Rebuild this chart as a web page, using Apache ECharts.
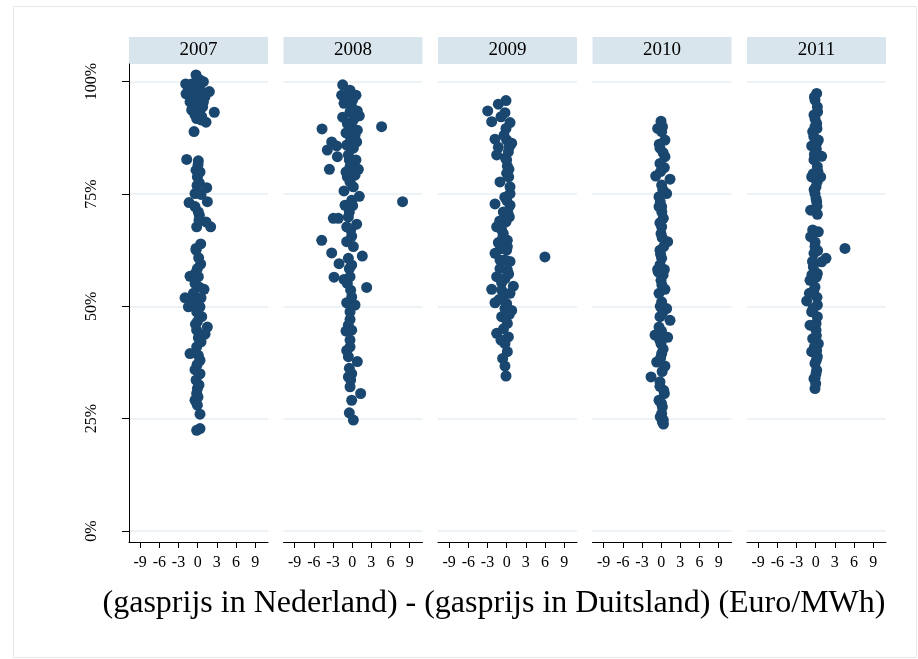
<!DOCTYPE html>
<html><head><meta charset="utf-8">
<script src="https://cdn.jsdelivr.net/npm/echarts@6/dist/echarts.min.js"></script>
<style>html,body{margin:0;padding:0;background:#fff}#c{width:918px;height:659px}</style>
</head><body><div id="c"></div>
<script>
const years = ['2007', '2008', '2009', '2010', '2011'];
const xTicks = [-9, -6, -3, 0, 3, 6, 9];
const yTicks = [0, 25, 50, 75, 100];
const xTitle = '(gasprijs in Nederland) - (gasprijs in Duitsland) (Euro/MWh)';

const d2007 = [
  [-0.26,101.5],[0.89,100.0],[-1.88,99.5],[-0.94,99.5],[0.1,98.9],[1.82,97.8],[-1.82,97.3],[-0.68,97.4],[0.63,97.8],
  [-1.2,95.5],[-0.16,95.9],[0.89,95.5],[-0.94,93.7],[0.36,93.7],[2.6,93.2],[-0.42,92.6],[0.63,92.2],[1.3,91.0],
  [-0.57,88.9],[-0.05,100.7],[0.36,100.4],[-1.46,98.5],[-0.42,98.1],[1.15,96.7],[-0.94,96.7],[0.1,94.8],[-0.57,94.4],
  [0.78,94.4],[0.26,93.0],[-0.16,91.8],[0.52,91.5],
  [-1.72,82.7],[0.1,82.4],[-0.26,80.3],[0.36,79.9],[-0.05,78.8],[0.26,77.5],[1.41,76.4],[-0.42,75.1],[0.52,74.9],
  [-1.35,73.1],[1.51,73.3],[-0.42,72.2],[0.1,71.0],[0.26,70.3],[1.3,68.8],[2.03,67.7],[-0.16,67.7],[-0.26,62.9],
  [0.47,63.9],[-0.26,62.5],[0.47,59.4],[-0.05,58.4],[-1.2,56.7],[0.1,56.6],[-0.42,55.1],[0.21,54.3],[0.99,53.8],
  [-1.98,51.9],[-0.68,52.9],[0.52,51.9],[-1.46,49.9],[-0.68,51.0],[0.36,49.9],[-0.16,48.8],[0.63,47.7],[-0.05,46.6],
  [1.51,45.4],[-0.16,44.7],[1.15,43.8],[0.52,42.1],[-0.16,41.0],[-1.2,39.5],[0.1,39.1],[0.36,38.0],[-0.42,35.9],
  [0.36,35.0],[-0.26,33.6],[-0.05,31.7],[-0.16,30.6],[-0.42,29.1],[-0.05,28.0],[0.36,26.0],[-0.16,22.4],[0.36,22.8],
  [0.05,81.5],[-0.1,76.9],[0.2,69.2],[0.15,60.8],[-0.3,57.5],[0.05,50.5],[0.25,48.0],[-0.35,46.0],[0.1,43.0],
  [-0.1,37.0],[0.2,32.5],[0.05,29.8]
];
const d2008 = [
  [-1.49,99.3],[-0.34,98.1],[0.59,97.0],[-1.65,97.0],[-0.86,96.7],[0.07,95.9],[-1.28,95.2],[0.80,93.5],[-0.34,93.3],
  [-1.49,92.1],[1.11,92.4],[0.18,91.5],[4.6,90.0],[-4.72,89.5],[-0.97,88.6],[0.80,89.2],[-0.08,90.0],[0.44,88.1],
  [-3.21,86.6],[-2.43,85.7],[-3.89,84.8],[-0.86,85.9],[0.70,86.6],[0.18,85.2],[-2.32,83.3],[-0.60,83.7],[0.59,82.6],
  [-3.57,80.5],[-0.34,81.1],[0.96,80.5],[-0.76,78.8],[0.44,79.2],[-0.34,77.7],[0.18,76.6],[-1.28,75.7],[1.11,74.5],
  [-1.12,72.5],[0.07,72.4],[7.88,73.3],[-2.95,69.6],[-2.17,69.6],[-0.60,69.9],[0.70,68.3],[-0.86,67.7],[-0.08,65.6],
  [-4.77,64.7],[0.18,63.3],[-3.21,61.9],[1.58,61.2],[-0.60,60.7],[-2.06,59.5],[-0.08,59.2],[-2.84,56.5],[-1.28,56.0],
  [-0.34,56.6],[2.26,54.2],[-0.24,53.6],[-0.86,50.8],[0.44,50.3],[-0.34,48.8],[-0.34,47.1],[-0.97,44.5],[-0.08,44.7],
  [-0.34,42.5],[-0.86,40.2],[-0.60,38.8],[0.80,37.7],[-0.45,36.2],[-0.08,35.0],[-0.24,33.6],[-0.34,32.1],[1.32,30.6],
  [-0.08,29.1],[-0.45,26.3],[0.18,24.7],
  [-0.60,97.4],[-0.08,94.4],[-0.76,90.7],[-0.24,87.4],[-0.45,82.6],[-0.97,79.9],[-0.08,73.6],[-0.45,71.0],[-0.24,67.0],
  [-0.86,64.4],[-0.45,58.4],[-0.76,55.1],[-0.08,52.1],[-0.60,45.8],[-0.34,41.0],[-0.60,34.3]
];
const d2009 = [
  [-0.11,95.8],[-1.31,95.0],[-2.97,93.5],[-0.27,93.1],[-0.89,92.2],[-2.35,91.1],[0.52,90.9],[-0.11,89.6],[-1.83,87.2],
  [0.78,86.3],[-1.31,85.4],[-0.01,87.0],[0.26,84.4],[-1.57,83.7],[-0.01,82.6],[0.10,81.2],[-0.01,79.6],[-1.05,77.7],
  [0.52,76.6],[0.52,75.1],[-1.83,72.8],[0.52,72.5],[-0.53,71.0],[0.41,69.9],[-0.11,68.8],[-1.57,67.7],[-0.53,66.2],
  [0.10,64.7],[-1.31,64.2],[0.10,63.3],[-1.83,61.8],[-0.27,60.3],[5.98,61.0],[-1.05,60.3],[0.52,60.0],[0.10,58.1],
  [-1.57,56.6],[-0.27,56.2],[1.04,54.5],[-2.35,53.8],[-0.79,53.6],[-1.83,50.8],[-0.01,50.6],[-0.27,49.5],[0.78,49.1],
  [-0.79,47.7],[0.10,46.2],[-1.57,44.0],[0.26,43.2],[-0.27,41.7],[0.10,39.9],[-0.63,38.4],[-0.27,36.7],[-0.11,34.5],
  [-0.53,52.1],[0.52,52.9],[-0.01,73.6],[-0.79,67.0],[-0.01,62.5],[-1.05,58.4],[0.41,85.5],[-0.42,88.1],[0.31,78.8],
  [-0.6,65.5],[-1.0,62.8],[0.3,57.2],[-0.8,55.3],[-1.2,51.5],[0.4,48.2],[-0.5,45.0],[-0.9,42.5],[0.2,70.8],
  [-1.1,69.0],[-0.3,74.3],[0.35,80.5],[-0.2,83.0]
];
const d2010 = [
  [-0.03,91.2],[-0.55,89.6],[0.07,88.9],[0.59,87.0],[-0.19,85.2],[0.59,83.3],[-0.19,81.8],[0.49,80.9],[-0.86,79.0],
  [1.38,78.3],[0.07,77.0],[0.85,75.1],[-0.34,74.4],[0.07,72.2],[0.33,69.6],[0.07,67.7],[-0.03,66.2],[1.01,64.4],
  [-0.19,62.5],[0.07,60.7],[-0.19,59.2],[-0.55,58.2],[0.49,58.2],[-0.03,55.8],[0.59,53.8],[-0.34,52.9],[0.07,51.0],
  [0.85,49.5],[1.38,46.9],[-0.19,47.7],[-0.97,43.6],[1.01,43.1],[-0.03,41.7],[0.07,39.5],[-0.71,37.6],[0.59,36.7],
  [-1.59,34.3],[-0.19,33.2],[0.49,30.6],[-0.34,29.1],[0.18,27.6],[0.07,26.1],[0.18,24.3],[0.33,24.7],[-0.34,72.2],
  [0.39,63.3],[-0.34,45.4],[0.39,31.3],
  [0.2,90.0],[-0.3,86.1],[0.3,84.2],[-0.1,80.0],[0.25,76.0],[-0.15,73.3],[0.1,71.0],[-0.2,68.6],[0.15,65.3],
  [-0.1,61.6],[0.3,57.0],[-0.45,57.6],[0.1,54.8],[-0.15,50.0],[0.2,48.5],[0.05,44.5],[-0.25,42.6],[0.3,40.5],
  [-0.1,38.5],[0.15,35.5],[-0.2,32.2],[0.05,28.4],[-0.15,25.4],[0.35,23.8]
];
const d2011 = [
  [0.15,97.4],[-0.11,95.9],[0.26,94.4],[-0.27,92.6],[0.15,90.7],[-0.47,88.9],[0.41,87.0],[-0.63,85.7],[0.05,84.4],
  [0.93,83.4],[-0.27,82.6],[0.26,81.1],[-0.63,78.8],[0.78,78.8],[0.05,76.6],[-0.11,75.1],[0.15,73.3],[-0.79,71.4],
  [0.26,70.5],[-0.47,67.0],[0.41,66.6],[-0.79,65.5],[-0.11,63.3],[4.58,62.9],[1.61,60.7],[0.93,59.9],[-0.37,58.8],
  [0.26,57.3],[-0.89,55.8],[-0.11,54.3],[-0.99,52.9],[-1.41,51.2],[0.26,50.3],[-0.63,48.8],[0.26,47.7],[-0.89,45.8],
  [0.05,44.7],[-0.47,42.8],[0.41,41.7],[-0.63,39.9],[0.26,38.8],[-0.11,37.3],[0.15,35.8],[-0.27,33.9],[-0.11,31.7],
  [-0.11,90.0],[0.15,86.3],[-0.27,61.8],[0.05,46.2],[0.15,40.2],[0.05,35.0],
  [-0.2,96.6],[0.3,93.3],[-0.1,91.7],[0.2,89.6],[-0.3,87.8],[0.1,85.0],[-0.2,83.8],[0.35,80.0],[-0.4,79.5],
  [0.2,77.6],[-0.25,76.0],[0.05,74.0],[0.2,72.3],[-0.1,64.3],[0.3,62.4],[-0.5,60.0],[0.1,56.5],[-0.3,53.5],
  [0.2,52.0],[-0.4,49.5],[0.1,43.5],[-0.2,41.0],[0.1,38.0],[-0.1,34.0],[0.0,32.8],[-0.6,57.0]
];
const panels = [d2007, d2008, d2009, d2010, d2011];

const chart = echarts.init(document.getElementById('c'), null, {renderer: 'canvas'});
const L0 = 129, STEP = 154.5, W = 139, TOP = 64, H = 478;
const FONT = '"Liberation Serif","Times New Roman",serif';
const DOT = '#1a476f';
const grids = [], xAxes = [], yAxes = [], series = [];
const graphics = [
  {type: 'rect', shape: {x: 13.5, y: 6.5, width: 903, height: 651}, style: {fill: 'none', stroke: '#e3eaee', lineWidth: 1}, z: -1}
];
years.forEach((yr, i) => {
  const left = L0 + STEP * i;
  grids.push({left: left, top: TOP, width: W, height: H});
  xAxes.push({
    type: 'value', gridIndex: i, min: -10.75, max: 11,
    axisLine: {show: true, onZero: false, lineStyle: {color: '#000', width: 1}},
    axisTick: {show: true, customValues: xTicks, length: 6, lineStyle: {color: '#000'}},
    axisLabel: {customValues: xTicks, margin: 13, color: '#000', fontFamily: FONT, fontSize: 16},
    splitLine: {show: false}
  });
  yAxes.push({
    type: 'value', gridIndex: i, min: -2.45, max: 103.94,
    axisLine: {show: i === 0, onZero: false, lineStyle: {color: '#000', width: 1}},
    axisTick: {show: i === 0, customValues: yTicks, length: 7, lineStyle: {color: '#000'}},
    axisLabel: {show: i === 0, customValues: yTicks, rotate: 90, margin: 29, formatter: v => v + '%',
      color: '#000', fontFamily: FONT, fontSize: 16},
    splitLine: {show: true, lineStyle: {color: '#e6eef2', width: 1.5}}
  });
  series.push({
    type: 'scatter', xAxisIndex: i, yAxisIndex: i, data: panels[i],
    symbol: 'circle', symbolSize: 11, itemStyle: {color: DOT, opacity: 1}
  });
  graphics.push({type: 'rect', shape: {x: left, y: 37, width: W, height: 27}, style: {fill: '#d9e5ec'}});
  graphics.push({type: 'text', x: left + W / 2, y: 50.5,
    style: {text: yr, fill: '#000', font: '19px ' + FONT, align: 'center', verticalAlign: 'middle'}});
});
graphics.push({type: 'text', x: 494, y: 604,
  style: {text: xTitle, fill: '#000', font: '32px ' + FONT, align: 'center', verticalAlign: 'middle'}});

chart.setOption({
  animation: false,
  backgroundColor: '#fff',
  grid: grids, xAxis: xAxes, yAxis: yAxes, series: series, graphic: graphics
});
</script></body></html>
